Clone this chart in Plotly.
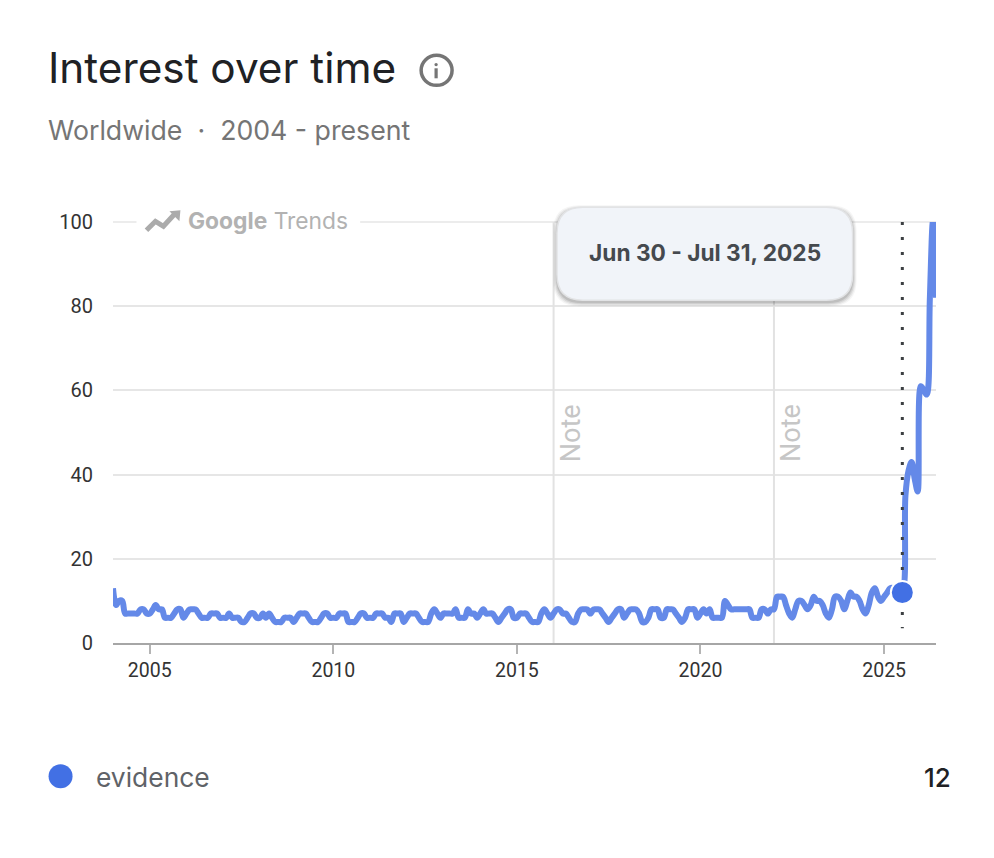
import pandas as pd
import plotly.graph_objects as go

# monthly interest values, one row per year
values_2004_2015 = [
    13, 9, 10, 10, 7, 7, 7, 7, 7, 8, 8, 7,
    7, 8, 9, 8, 8, 6, 6, 6, 7, 8, 8, 6,
    7, 8, 8, 8, 7, 6, 6, 6, 7, 7, 7, 6,
    6, 6, 7, 6, 6, 6, 5, 5, 6, 7, 7, 6,
    6, 7, 6, 7, 6, 5, 5, 5, 6, 6, 6, 5,
    6, 7, 7, 7, 6, 5, 5, 5, 6, 7, 7, 6,
    6, 6, 7, 7, 7, 5, 5, 5, 6, 7, 7, 6,
    6, 6, 7, 7, 7, 6, 6, 5, 7, 7, 7, 5,
    6, 7, 7, 7, 6, 5, 5, 5, 7, 8, 7, 6,
    7, 7, 7, 7, 8, 6, 6, 6, 8, 7, 7, 6,
    7, 8, 7, 7, 7, 6, 5, 6, 7, 8, 8, 6,
    6, 7, 7, 7, 6, 5, 5, 5, 7, 8, 7, 6,
]
values_2016_2021 = [
    7, 8, 8, 7, 7, 6, 5, 5, 7, 8, 8, 8,
    7, 8, 8, 8, 7, 6, 5, 6, 7, 8, 8, 6,
    7, 8, 8, 8, 7, 5, 5, 6, 8, 8, 8, 6,
    6, 8, 8, 8, 7, 6, 5, 6, 8, 8, 8, 6,
    7, 8, 7, 8, 6, 6, 6, 6, 10, 9, 8, 8,
    8, 8, 8, 8, 8, 6, 6, 6, 8, 8, 7, 8,
]
values_2022_2026 = [
    8, 11, 11, 11, 9, 7, 6, 8, 10, 10, 9, 8,
    9, 11, 10, 10, 9, 7, 6, 8, 11, 11, 10, 8,
    10, 12, 11, 11, 10, 8, 7, 9, 12, 13, 11, 10,
    11, 12, 13, 13, 12, 12, 12, 35, 41, 43, 39, 36,
    61, 60, 59, 82, 100, 82,
]
interest = values_2004_2015 + values_2016_2021 + values_2022_2026
months = pd.date_range("2004-01-01", periods=len(interest), freq="MS")

term = "evidence"
highlight_date = pd.Timestamp("2025-07-01")
highlight_value = 12
highlight_label = "Jun 30 - Jul 31, 2025"
note_dates = ["2016-01-01", "2022-01-01"]
year_ticks = [2005, 2010, 2015, 2020, 2025]
y_ticks = [0, 20, 40, 60, 80, 100]

LINE = "#6489E8"
DOT = "#4270E4"
PAGE = 8  # body margin of the page
LEFT, RIGHT, TOP, BOTTOM = 112.5, 936.5, 221.7, 642.7


def fx(px):
    return (px - LEFT) / (RIGHT - LEFT)


def fy(py):
    return (BOTTOM - py) / (BOTTOM - TOP)


def text(px, py, s, size, color, anchor="left", family="Inter", weight="normal", **kw):
    fig.add_annotation(x=fx(px), y=fy(py), xref="paper", yref="paper", text=s, showarrow=False,
                       xanchor=anchor, yanchor="middle", borderpad=0,
                       font=dict(size=size, color=color, family=family, weight=weight), **kw)


def rounded(x0, y0, x1, y1, r):
    pts = [
        (x0 + r, y0), (x1 - r, y0), (x1, y0), (x1, y0 + r), (x1, y1 - r), (x1, y1), (x1 - r, y1),
        (x0 + r, y1), (x0, y1), (x0, y1 - r), (x0, y0 + r), (x0, y0), (x0 + r, y0),
    ]
    p = [f"{fx(a):.5f},{fy(b):.5f}" for a, b in pts]
    return (f"M{p[0]} L{p[1]} Q{p[2]} {p[3]} L{p[4]} Q{p[5]} {p[6]} L{p[7]} "
            f"Q{p[8]} {p[9]} L{p[10]} Q{p[11]} {p[12]} Z")


def paper_shape(**kw):
    fig.add_shape(xref="paper", yref="paper", **kw)


fig = go.Figure()
fig.add_trace(go.Scatter(x=months, y=interest, mode="lines", cliponaxis=False, hoverinfo="skip",
                         line=dict(color=LINE, width=6, shape="spline", smoothing=1.0)))
fig.add_trace(go.Scatter(x=[highlight_date, highlight_date], y=[100, 3.5], mode="lines", cliponaxis=False,
                         hoverinfo="skip", line=dict(color="#3c4043", width=3, dash="3px,12px")))
fig.add_trace(go.Scatter(x=[highlight_date], y=[highlight_value], mode="markers", cliponaxis=False,
                         hoverinfo="skip",
                         marker=dict(color=DOT, size=23, line=dict(color="white", width=2))))

fig.update_layout(
    width=994 - 2 * PAGE, height=858 - 2 * PAGE,
    margin=dict(l=LEFT - PAGE, r=994 - PAGE - RIGHT, t=TOP - PAGE, b=858 - PAGE - BOTTOM, pad=0),
    paper_bgcolor="white", plot_bgcolor="white", showlegend=False,
    xaxis=dict(
        range=[months[0], months[-1]], showgrid=False, zeroline=False,
        tickmode="array", tickvals=[f"{y}-01-01" for y in year_ticks], ticktext=[str(y) for y in year_ticks],
        ticks="outside", ticklen=9, tickwidth=1.5, tickcolor="#b4b4b4",
        showline=True, linecolor="#a6a6a6", linewidth=2,
        tickfont=dict(family="Roboto", size=19.5, color="#333333"),
    ),
    yaxis=dict(
        range=[0, 100], tickmode="array", tickvals=y_ticks, ticks="outside", ticklen=15,
        tickcolor="rgba(0,0,0,0)",
        showgrid=True, gridcolor="#e6e6e6", gridwidth=1.5, zeroline=False, showline=False,
        tickfont=dict(family="Roboto", size=20, color="#333333"),
    ),
)

# top gridline, plotly leaves it out at the range edge
paper_shape(type="line", x0=0, x1=1, y0=1, y1=1, layer="between", line=dict(color="#e6e6e6", width=1.5))

# note lines
for d in note_dates:
    fig.add_shape(type="line", x0=d, x1=d, y0=0, y1=100, xref="x", yref="y", layer="between",
                  line=dict(color="#e2e2e2", width=2))
text(571, 433, "Note", 27, "#c6c6c6", anchor="center", family="Roboto", textangle=-90)
text(792, 433, "Note", 27, "#c6c6c6", anchor="center", family="Roboto", textangle=-90)

# watermark
paper_shape(type="rect", x0=fx(136), x1=fx(360), y0=fy(232), y1=fy(212), fillcolor="white", line_width=0)
logo = [(146, 230), (155, 221), (163, 226), (174, 214)]
paper_shape(type="path", path="M" + " L".join(f"{fx(a):.5f},{fy(b):.5f}" for a, b in logo),
            line=dict(color="#ababab", width=5))
arrow = [(169, 211), (180, 210), (179, 221)]
paper_shape(type="path", path="M" + " L".join(f"{fx(a):.5f},{fy(b):.5f}" for a, b in arrow) + " Z",
            fillcolor="#ababab", line_width=0)
text(187, 220.5, "<b>Google</b> Trends", 22.8, "#b2b2b2")

# tooltip
for grow, alpha in [(4, 0.04), (3, 0.06), (2, 0.08), (1, 0.1)]:
    paper_shape(type="path", path=rounded(557 - grow, 207 - grow + 2, 853 + grow, 300 + grow + 2, 26),
                fillcolor=f"rgba(0,0,0,{alpha})", line_width=0)
paper_shape(type="path", path=rounded(557, 207, 853, 300, 26), fillcolor="#f1f4f9",
            line=dict(color="#e2e3e5", width=1.5))
text(705, 252.5, f"<b>{highlight_label}</b>", 22.7, "#45494e", anchor="center")

# header
text(46, 67, "Interest over time", 42.3, "#202124")
text(46, 129.5, "Worldwide  ·  2004 - present", 26.7, "#757575")
paper_shape(type="circle", x0=fx(421), x1=fx(452), y0=fy(85), y1=fy(55), line=dict(color="#757575", width=3.5))
paper_shape(type="circle", x0=fx(434.3), x1=fx(437.7), y0=fy(66), y1=fy(62.6), fillcolor="#757575", line_width=0)
paper_shape(type="line", x0=fx(436), x1=fx(436), y0=fy(68), y1=fy(78), line=dict(color="#757575", width=3.2))

# legend row
paper_shape(type="circle", x0=fx(48), x1=fx(72), y0=fy(788), y1=fy(764), fillcolor=DOT, line_width=0)
text(94.5, 777, term, 26.4, "#5f6368")
text(953, 777, str(highlight_value), 26, "#202124", anchor="right", weight=500)

fig.write_html("out.html")
